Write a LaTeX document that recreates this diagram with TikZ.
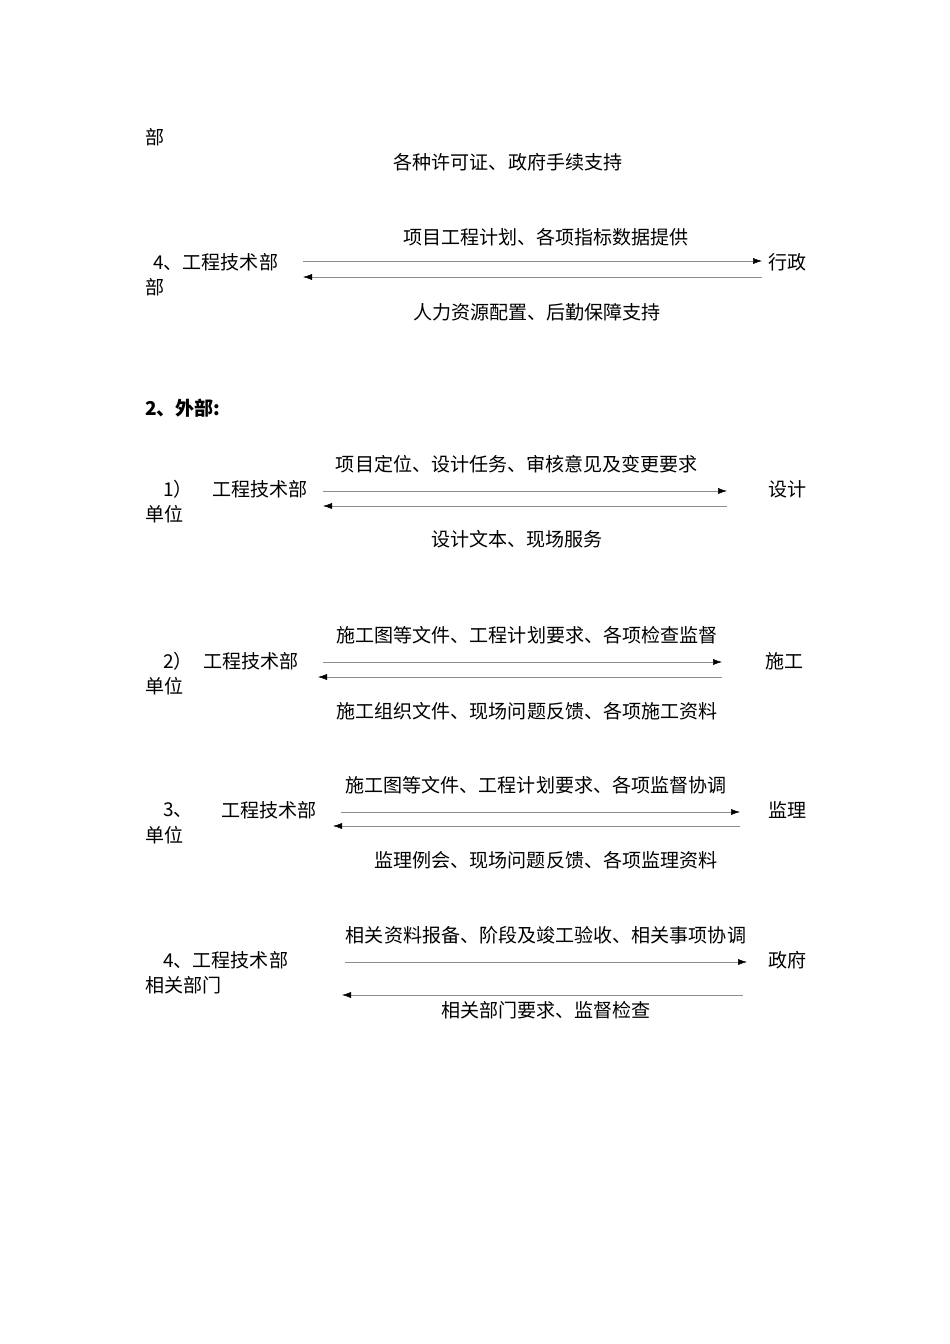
\documentclass[tikz,border=0pt]{standalone}
\usepackage{fontspec}
\setmainfont{Liberation Serif}
\newfontfamily\cjk{Noto Sans CJK SC}[Scale=1.03]
\usetikzlibrary{arrows.meta}
\tikzset{
 t/.style={inner sep=0pt,font=\fontsize{18.5}{20}\selectfont\cjk},
 tl/.style={t,anchor=west},
 ar/.style={draw=black!45,line width=0.5pt,-{Latex[black,length=9pt,width=6pt]}}
}
\begin{document}
\begin{tikzpicture}[x=1pt,y=-1pt]
\useasboundingbox (0,0) rectangle (950,1344);
\node[tl] (a0) at (145,137) {部};
\node[t] (a1) at (508,162) {各种许可证、政府手续支持};
% 4 xingzheng
\node[t] (b1) at (546,237) {项目工程计划、各项指标数据提供};
\node[tl] (b2) at (153,262) {4、工程技术部};
\node[tl] (b3) at (768,262) {行政};
\node[tl] (b4) at (145,287) {部};
\coordinate (b5) at (303,261); \coordinate (b6) at (762,261);
\coordinate (b7) at (762,277); \coordinate (b8) at (303,277);
\draw[ar] (b5) -- (b6); \draw[ar] (b7) -- (b8);
\node[t] (b9) at (537,312) {人力资源配置、后勤保障支持};
\node[tl,font=\fontsize{18.5}{20}\selectfont\cjk\bfseries] (c0) at (145,408) {2、外部:};
% 1)
\node[t] (d1) at (517,464) {项目定位、设计任务、审核意见及变更要求};
\node[tl] (d2) at (163,489) {1）};
\node[tl] (d3) at (212,489) {工程技术部};
\node[tl] (d4) at (768,489) {设计};
\node[tl] (d5) at (145,514) {单位};
\coordinate (d6) at (323,491); \coordinate (d7) at (727,491);
\coordinate (d8) at (727,506); \coordinate (d9) at (323,506);
\draw[ar] (d6) -- (d7); \draw[ar] (d8) -- (d9);
\node[t] (d10) at (517,539) {设计文本、现场服务};
% 2)
\node[t] (e1) at (527,635) {施工图等文件、工程计划要求、各项检查监督};
\node[tl] (e2) at (163,661) {2）};
\node[tl] (e3) at (203,661) {工程技术部};
\node[tl] (e4) at (765,661) {施工};
\node[tl] (e5) at (145,686) {单位};
\coordinate (e6) at (323,662); \coordinate (e7) at (722,662);
\coordinate (e8) at (722,677); \coordinate (e9) at (318,677);
\draw[ar] (e6) -- (e7); \draw[ar] (e8) -- (e9);
\node[t] (e10) at (527,711) {施工组织文件、现场问题反馈、各项施工资料};
% 3
\node[t] (f1) at (536,785) {施工图等文件、工程计划要求、各项监督协调};
\node[tl] (f2) at (163,810) {3、};
\node[tl] (f3) at (221,810) {工程技术部};
\node[tl] (f4) at (768,810) {监理};
\node[tl] (f5) at (145,835) {单位};
\coordinate (f6) at (341,812); \coordinate (f7) at (740,812);
\coordinate (f8) at (740,826); \coordinate (f9) at (333,826);
\draw[ar] (f6) -- (f7); \draw[ar] (f8) -- (f9);
\node[t] (f10) at (546,860) {监理例会、现场问题反馈、各项监理资料};
% 4
\node[t] (g1) at (546,935) {相关资料报备、阶段及竣工验收、相关事项协调};
\node[tl] (g2) at (163,960) {4、工程技术部};
\node[tl] (g4) at (768,960) {政府};
\node[tl] (g5) at (145,985) {相关部门};
\coordinate (g6) at (345,962); \coordinate (g7) at (747,962);
\coordinate (g8) at (743,995); \coordinate (g9) at (342,995);
\draw[ar] (g6) -- (g7); \draw[ar] (g8) -- (g9);
\node[t] (g10) at (546,1010) {相关部门要求、监督检查};
\end{tikzpicture}
\end{document}
